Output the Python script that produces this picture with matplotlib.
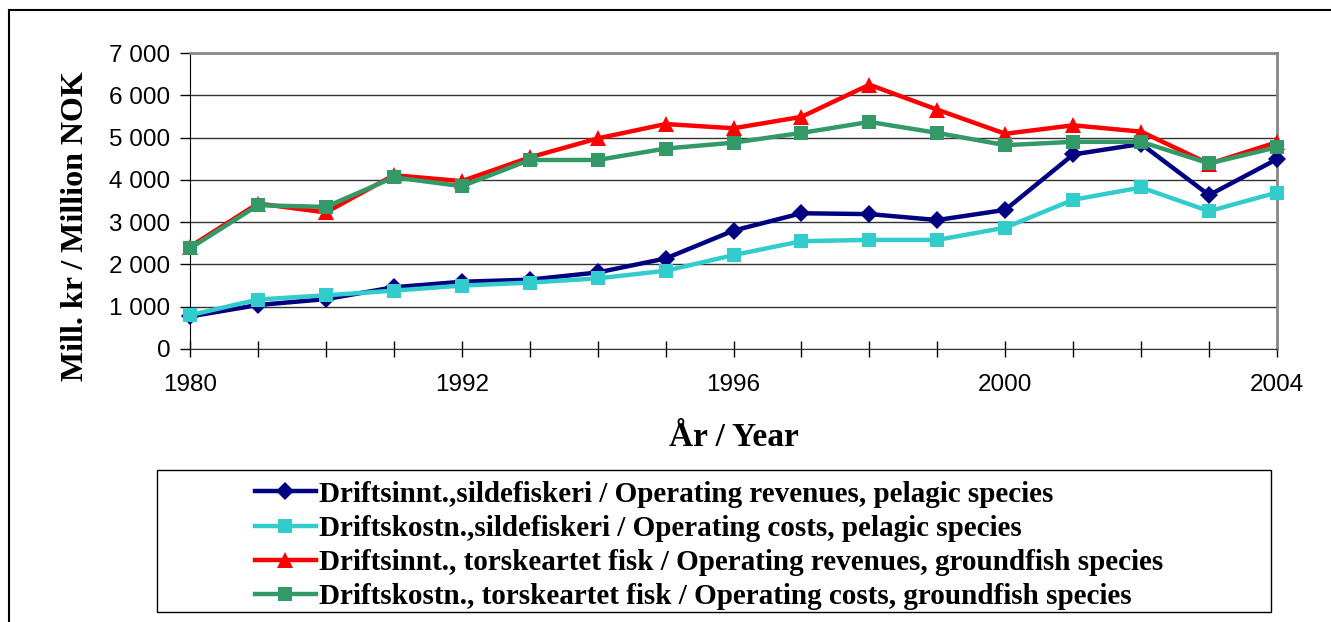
import matplotlib.pyplot as plt
from matplotlib.patches import Rectangle
from matplotlib.lines import Line2D
from matplotlib.ticker import FuncFormatter, MultipleLocator

# Kategorier (bare hvert 4. år har etikett i originalen)
years = ['1980', '1989', '1990', '1991', '1992', '1993', '1994', '1995', '1996',
         '1997', '1998', '1999', '2000', '2001', '2002', '2003', '2004']
tick_labels = ['1980', '', '', '', '1992', '', '', '', '1996',
               '', '', '', '2000', '', '', '', '2004']

# Mill. kr
inntekt_sild = [770, 1040, 1180, 1460, 1590, 1640, 1810, 2140, 2800,
                3210, 3190, 3050, 3290, 4600, 4850, 3640, 4490]
kostnad_sild = [800, 1170, 1270, 1380, 1500, 1570, 1670, 1850, 2220,
                2550, 2580, 2580, 2870, 3530, 3820, 3260, 3700]
inntekt_torsk = [2420, 3440, 3230, 4110, 3970, 4530, 4980, 5320, 5220,
                 5490, 6250, 5660, 5090, 5290, 5140, 4380, 4890]
kostnad_torsk = [2380, 3400, 3360, 4060, 3850, 4470, 4470, 4740, 4880,
                 5110, 5370, 5110, 4820, 4900, 4900, 4390, 4770]

labels = [
    'Driftsinnt.,sildefiskeri / Operating revenues, pelagic species',
    'Driftskostn.,sildefiskeri / Operating costs, pelagic species',
    'Driftsinnt., torskeartet fisk / Operating revenues, groundfish species',
    'Driftskostn., torskeartet fisk / Operating costs, groundfish species',
]
series = [inntekt_sild, kostnad_sild, inntekt_torsk, kostnad_torsk]
colors = ['#000080', '#33CCCC', '#FF0000', '#339966']
markers = ['D', 's', '^', 's']
msizes = [9.5, 10.5, 11, 10.5]

W, H = 1331, 622
fig = plt.figure(figsize=(W / 100, H / 100), dpi=100)
ax = fig.add_axes([190 / W, 1 - 349 / H, (1277 - 190) / W, (349 - 53) / H])

x = list(range(len(years)))
for vals, c, m, ms in zip(series, colors, markers, msizes):
    ax.plot(x, vals, color=c, marker=m, markersize=ms, linewidth=3.2,
            markeredgewidth=0, zorder=3, clip_on=False)

ax.set_xlim(0, len(years) - 1)
ax.set_ylim(0, 7000)
ax.yaxis.set_major_locator(MultipleLocator(1000))
ax.yaxis.set_major_formatter(FuncFormatter(lambda v, p: f'{int(v):,}'.replace(',', ' ')))
ax.set_xticks(x)
ax.set_xticklabels(tick_labels)
ax.grid(axis='y', color='#333333', linewidth=1)
ax.set_axisbelow(True)

for lab in ax.get_xticklabels() + ax.get_yticklabels():
    lab.set_fontfamily('Liberation Sans')
    lab.set_fontsize(17.5)
ax.tick_params(axis='x', direction='inout', length=12, width=1, pad=12)
ax.tick_params(axis='y', direction='out', length=7, width=1, pad=7)

ax.spines['left'].set_color('black')
ax.spines['bottom'].set_color('#333333')
ax.spines['top'].set_color('#888888')
ax.spines['right'].set_color('#888888')
ax.spines['top'].set_linewidth(2)
ax.spines['right'].set_linewidth(2)

fig.text(76 / W, 1 - 226 / H, 'Mill. kr / Million NOK', rotation=90,
         ha='center', va='center', fontfamily='Liberation Serif',
         fontweight='bold', fontsize=23)
fig.text(734 / W, 1 - 437 / H, 'År / Year', ha='center', va='center',
         fontfamily='Liberation Serif', fontweight='bold', fontsize=24)

# ytre ramme (kun topp og venstre synlig)
fig.add_artist(Line2D([9 / W, 9 / W], [0, 1 - 10 / H], color='black', linewidth=1.5))
fig.add_artist(Line2D([9 / W, 1], [1 - 10 / H, 1 - 10 / H], color='black', linewidth=1.5))

# legendeboks
fig.add_artist(Rectangle((157 / W, 1 - 612 / H), (1271 - 157) / W, (612 - 470) / H,
                         transform=fig.transFigure, facecolor='white',
                         edgecolor='black', linewidth=1))
handles = [Line2D([], [], color=c, marker=m, markersize=ms, linewidth=3.2,
                  markeredgewidth=0) for c, m, ms in zip(colors, markers, msizes)]
fig.legend(handles, labels, loc='upper left', bbox_to_anchor=(240 / W, 1 - 466 / H),
           frameon=False, prop={'family': 'Liberation Serif', 'weight': 'bold', 'size': 21},
           handlelength=2.1, handletextpad=0.1, labelspacing=0.25, borderpad=0)

fig.savefig('out.png', dpi=100)
